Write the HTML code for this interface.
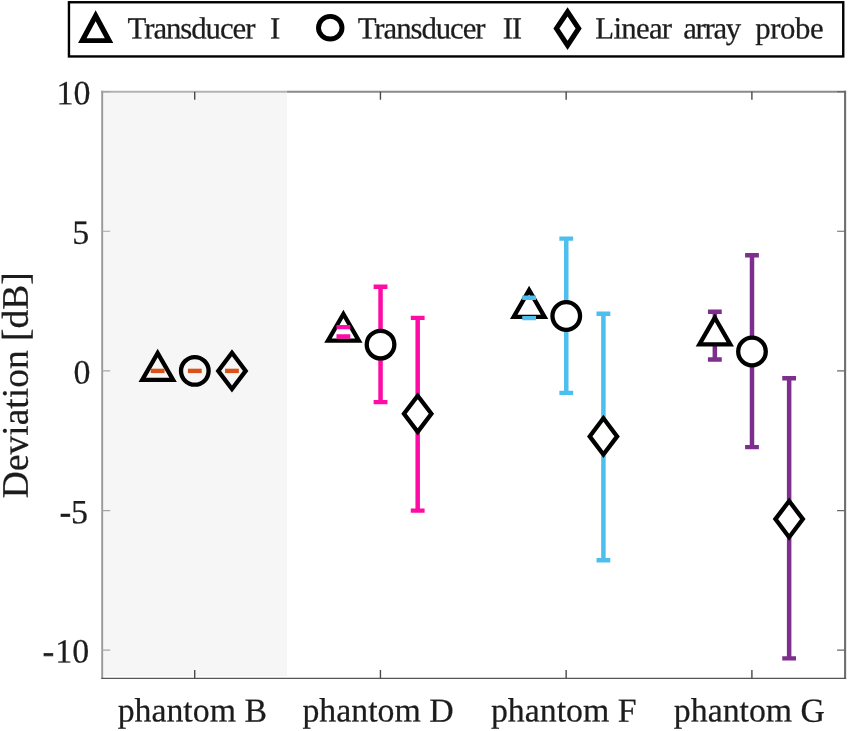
<!DOCTYPE html>
<html><head><meta charset="utf-8"><title>Deviation chart</title>
<style>html,body{margin:0;padding:0;background:#fff}svg{display:block}text{font-family:"Liberation Serif","Times New Roman",serif;fill:#1c1c1c;stroke:#1c1c1c;stroke-width:0.25px}</style></head><body>
<svg width="848" height="731" viewBox="0 0 848 731">
<rect width="848" height="731" fill="#fff"/>
<rect x="102.2" y="91.7" width="184.70" height="584.50" fill="#f6f6f6"/>
<path d="M286.8,91.7H846.1" stroke="#8a8a8a" stroke-width="1.9" fill="none"/>
<path d="M101.3,91.7H286.8" stroke="#b2b2b2" stroke-width="1.9" fill="none"/>
<path d="M102.2,678.9V90.8" stroke="#989898" stroke-width="1.9" fill="none"/>
<path d="M845.1,678.9V90.8" stroke="#6e6e6e" stroke-width="2.1" fill="none"/>
<path d="M101.3,678.35H846.1" stroke="#555" stroke-width="1.4" fill="none"/>
<path d="M194.71,678.1v-8.0M194.71,91.7v8.0M380.44,678.1v-8.0M380.44,91.7v8.0M566.16,678.1v-8.0M566.16,91.7v8.0M751.89,678.1v-8.0M751.89,91.7v8.0" stroke="#4a4a4a" stroke-width="1.4" fill="none"/>
<path d="M102.2,91.60h8.0M102.2,231.25h8.0M102.2,370.90h8.0M102.2,510.55h8.0M102.2,650.20h8.0" stroke="#a6a6a6" stroke-width="1.2" fill="none"/>
<path d="M845.1,91.60h-8.0M845.1,231.25h-8.0M845.1,370.90h-8.0M845.1,510.55h-8.0M845.1,650.20h-8.0" stroke="#686868" stroke-width="1.2" fill="none"/>
<polygon points="157.66,353.09 142.24,379.81 173.09,379.81" fill="#f6f6f6" stroke="#000" stroke-width="4.3" stroke-linejoin="miter"/>
<path d="M150.76,370.90h13.8" stroke="#D95319" stroke-width="4.4" fill="none"/>
<circle cx="194.81" cy="370.90" r="13.80" fill="#f6f6f6" stroke="#000" stroke-width="4.3"/>
<path d="M187.91,370.90h13.8" stroke="#D95319" stroke-width="4.4" fill="none"/>
<polygon points="231.96,352.81 245.67,370.90 231.96,388.99 218.26,370.90" fill="#f6f6f6" stroke="#000" stroke-width="4.3" stroke-linejoin="miter"/>
<path d="M225.06,370.90h13.8" stroke="#D95319" stroke-width="4.4" fill="none"/>
<line x1="343.39" y1="327.10" x2="343.39" y2="336.50" stroke="#FF0CA6" stroke-width="4.5"/>
<polygon points="343.39,313.99 327.96,340.71 358.81,340.71" fill="#fff" stroke="#000" stroke-width="4.3" stroke-linejoin="miter"/>
<path d="M336.49,327.10h13.8M336.49,336.50h13.8" stroke="#FF0CA6" stroke-width="4.4" fill="none"/>
<line x1="380.54" y1="286.80" x2="380.54" y2="402.10" stroke="#FF0CA6" stroke-width="4.5"/>
<circle cx="380.54" cy="344.60" r="13.80" fill="#fff" stroke="#000" stroke-width="4.3"/>
<path d="M373.64,286.80h13.8M373.64,402.10h13.8" stroke="#FF0CA6" stroke-width="4.4" fill="none"/>
<line x1="417.69" y1="317.90" x2="417.69" y2="510.60" stroke="#FF0CA6" stroke-width="4.5"/>
<polygon points="417.69,395.71 431.39,413.80 417.69,431.89 403.98,413.80" fill="#fff" stroke="#000" stroke-width="4.3" stroke-linejoin="miter"/>
<path d="M410.79,317.90h13.8M410.79,510.60h13.8" stroke="#FF0CA6" stroke-width="4.4" fill="none"/>
<line x1="529.11" y1="297.80" x2="529.11" y2="318.10" stroke="#4DBEEE" stroke-width="4.5"/>
<polygon points="529.11,290.09 513.69,316.81 544.54,316.81" fill="#fff" stroke="#000" stroke-width="4.3" stroke-linejoin="miter"/>
<path d="M522.21,297.80h13.8M522.21,318.10h13.8" stroke="#4DBEEE" stroke-width="4.4" fill="none"/>
<line x1="566.26" y1="238.60" x2="566.26" y2="392.90" stroke="#4DBEEE" stroke-width="4.5"/>
<circle cx="566.26" cy="316.00" r="13.80" fill="#fff" stroke="#000" stroke-width="4.3"/>
<path d="M559.36,238.60h13.8M559.36,392.90h13.8" stroke="#4DBEEE" stroke-width="4.4" fill="none"/>
<line x1="603.41" y1="313.70" x2="603.41" y2="560.30" stroke="#4DBEEE" stroke-width="4.5"/>
<polygon points="603.41,418.31 617.12,436.40 603.41,454.49 589.71,436.40" fill="#fff" stroke="#000" stroke-width="4.3" stroke-linejoin="miter"/>
<path d="M596.51,313.70h13.8M596.51,560.30h13.8" stroke="#4DBEEE" stroke-width="4.4" fill="none"/>
<line x1="714.84" y1="311.80" x2="714.84" y2="359.50" stroke="#7E2F8E" stroke-width="4.5"/>
<polygon points="714.84,317.69 699.41,344.41 730.26,344.41" fill="#fff" stroke="#000" stroke-width="4.3" stroke-linejoin="miter"/>
<path d="M707.94,311.80h13.8M707.94,359.50h13.8" stroke="#7E2F8E" stroke-width="4.4" fill="none"/>
<line x1="751.99" y1="255.30" x2="751.99" y2="447.10" stroke="#7E2F8E" stroke-width="4.5"/>
<circle cx="751.99" cy="351.50" r="13.80" fill="#fff" stroke="#000" stroke-width="4.3"/>
<path d="M745.09,255.30h13.8M745.09,447.10h13.8" stroke="#7E2F8E" stroke-width="4.4" fill="none"/>
<line x1="789.14" y1="378.30" x2="789.14" y2="658.40" stroke="#7E2F8E" stroke-width="4.5"/>
<polygon points="789.14,501.01 802.84,519.10 789.14,537.19 775.43,519.10" fill="#fff" stroke="#000" stroke-width="4.3" stroke-linejoin="miter"/>
<path d="M782.24,378.30h13.8M782.24,658.40h13.8" stroke="#7E2F8E" stroke-width="4.4" fill="none"/>
<text transform="translate(90.4,104.2) rotate(0.03)" font-size="33.9" text-anchor="end">10</text>
<text transform="translate(89.3,243.8) rotate(0.03)" font-size="33.9" text-anchor="end">5</text>
<text transform="translate(90.4,383.5) rotate(0.03)" font-size="33.9" text-anchor="end">0</text>
<text transform="translate(88.0,523.2) rotate(0.03)" font-size="33.9" text-anchor="end"><tspan stroke-width="0.7">-</tspan><tspan dx="0.0">5</tspan></text>
<text transform="translate(89.2,662.5) rotate(0.03)" font-size="33.9" text-anchor="end"><tspan stroke-width="0.7">-</tspan><tspan dx="1.2">10</tspan></text>
<text transform="translate(192.3,721.6) rotate(0.03)" font-size="33.8" text-anchor="middle">phantom B</text>
<text transform="translate(378.0,721.6) rotate(0.03)" font-size="33.8" text-anchor="middle">phantom D</text>
<text transform="translate(563.7,721.6) rotate(0.03)" font-size="33.8" text-anchor="middle">phantom F</text>
<text transform="translate(749.4,721.6) rotate(0.03)" font-size="33.8" text-anchor="middle">phantom G</text>
<text transform="translate(27.8,385.2) rotate(-90.03)" font-size="37.5" text-anchor="middle">Deviation [dB]</text>
<rect x="68.95" y="2.25" width="774.3" height="54.2" fill="#fff" stroke="#000" stroke-width="2.4"/>
<path fill="#000" fill-rule="evenodd" d="M95.65,10.3L113.3,43.1H78.1ZM95.65,21.2L104.8,38.2H86.5Z"/>
<ellipse cx="330.25" cy="27.7" rx="11.75" ry="11.35" fill="none" stroke="#000" stroke-width="4.9"/>
<path fill="#000" fill-rule="evenodd" d="M567.55,7.2L581.7,28.55L567.55,49.9L553.4,28.55ZM567.55,16.4L575.6,28.55L567.55,40.7L559.4,28.55Z"/>
<text transform="translate(127.6,38.4) rotate(0.03)" font-size="30.8" fill="#000" stroke="#000" stroke-width="0.4" textLength="127.8" lengthAdjust="spacing">Transducer</text>
<text transform="translate(270.0,38.4) rotate(0.03)" font-size="30.8" fill="#000" stroke="#000" stroke-width="0.4" textLength="9.9" lengthAdjust="spacing">I</text>
<text transform="translate(357.7,38.4) rotate(0.03)" font-size="30.8" fill="#000" stroke="#000" stroke-width="0.4" textLength="127.8" lengthAdjust="spacing">Transducer</text>
<text transform="translate(502.7,38.4) rotate(0.03)" font-size="30.8" fill="#000" stroke="#000" stroke-width="0.4" textLength="19.3" lengthAdjust="spacing">II</text>
<text transform="translate(595.3,38.4) rotate(0.03)" font-size="30.8" fill="#000" stroke="#000" stroke-width="0.4" textLength="76.8" lengthAdjust="spacing">Linear</text>
<text transform="translate(683.2,38.4) rotate(0.03)" font-size="30.8" fill="#000" stroke="#000" stroke-width="0.4" textLength="58" lengthAdjust="spacing">array</text>
<text transform="translate(755.2,38.4) rotate(0.03)" font-size="30.8" fill="#000" stroke="#000" stroke-width="0.4" textLength="68.6" lengthAdjust="spacing">probe</text>
</svg></body></html>
